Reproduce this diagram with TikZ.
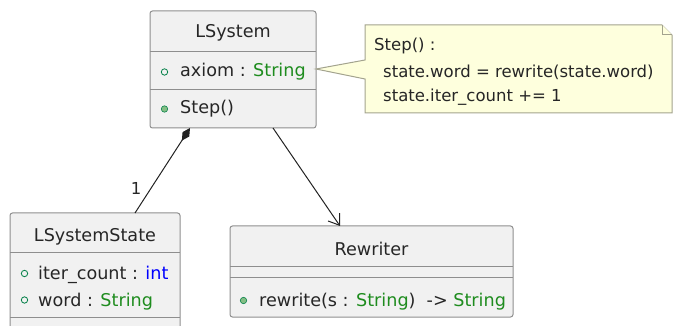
\documentclass[tikz,border=0pt]{standalone}
\usepackage{fontspec}
\setmainfont{DejaVu Sans}
\usetikzlibrary{arrows.meta,calc}
\definecolor{boxfill}{HTML}{F1F1F1}
\definecolor{boxline}{HTML}{8E8E8E}
\definecolor{noteline}{HTML}{A3A38E}
\definecolor{connline}{HTML}{222222}
\definecolor{notefill}{HTML}{FEFFDD}
\definecolor{typegreen}{HTML}{1E8C1E}
\definecolor{typeblue}{HTML}{0000FF}
\definecolor{visline}{HTML}{038048}
\definecolor{visfill}{HTML}{84BE84}
\tikzset{
  classbox/.style={draw=boxline, line width=1pt, fill=boxfill, rounded corners=2.5pt, inner sep=0pt, outer sep=0pt},
  divider/.style={draw=boxline, line width=1pt},
  ctitle/.style={anchor=base, inner sep=0pt, font=\fontsize{17.6}{21}\selectfont, text=black!85},
  member/.style={anchor=base west, inner sep=0pt, font=\fontsize{17.6}{21}\selectfont, text=black!85},
  notetext/.style={anchor=base west, inner sep=0pt, font=\fontsize{16.5}{20}\selectfont, text=black!85},
  fieldvis/.style={draw=visline, line width=0.8pt, fill=none},
  methvis/.style={draw=visline, line width=0.6pt, fill=visfill},
  conn/.style={draw=connline, line width=1pt},
}
\begin{document}
\begin{tikzpicture}[x=1pt,y=-1pt]
\useasboundingbox (0,0) rectangle (673,326);
\clip (0,0) rectangle (673,326);

% LSystem
\node[classbox, minimum width=166pt, minimum height=117pt] (lsys) at (233,69.5) {};
\draw[divider] (150,52) -- (316,52);
\draw[divider] (150,90) -- (316,90);
\node[ctitle] (lsysT) at (233,38) {LSystem};
\draw[fieldvis] (164.5,72) circle (3.2pt);
\node[member] (lsysA) at (180,76.5) {axiom : \textcolor{typegreen}{String}};
\draw[methvis] (164.5,109) circle (3.2pt);
\node[member] (lsysM) at (180,113.5) {Step()};

% LSystemState
\node[classbox, minimum width=170pt, minimum height=127pt] (lss) at (95,276.5) {};
\draw[divider] (10,253) -- (180,253);
\draw[divider] (10,317) -- (180,317);
\node[ctitle] (lssT) at (95,241.5) {LSystemState};
\draw[fieldvis] (24.5,273.5) circle (3.2pt);
\node[member] (lssA) at (38,279.5) {iter\_count : \textcolor{typeblue}{int}};
\draw[fieldvis] (24.5,300) circle (3.2pt);
\node[member] (lssB) at (38,306) {word : \textcolor{typegreen}{String}};

% Rewriter
\node[classbox, minimum width=283pt, minimum height=91pt] (rw) at (371.5,271.5) {};
\draw[divider] (230,267) -- (513,267);
\draw[divider] (230,278) -- (513,278);
\node[ctitle] (rwT) at (371.5,255) {Rewriter};
\draw[methvis] (243.5,300.5) circle (3.2pt);
\node[member] (rwM) at (259,306.5) {rewrite(s : \textcolor{typegreen}{String})\ \ -> \textcolor{typegreen}{String}};

% Note
\draw[draw=noteline, line width=1pt, fill=notefill]
  (365,25) -- (662,25) -- (672,35) -- (672,113) -- (365,113) -- (365,79) -- (316,69) -- (365,60) -- cycle;
\draw[draw=noteline, line width=1pt, fill=notefill] (662,25) -- (662,35) -- (672,35);
\node[notetext] (n1) at (374,50.5) {Step() :};
\node[notetext] (n2) at (383,78) {state.word = rewrite(state.word)};
\node[notetext] (n3) at (383,101.5) {state.iter\_count += 1};

% Connectors
\coordinate (compA) at ($(lsys.south west)+(40,0)$);
\coordinate (compB) at ($(lss.north west)+(125,0)$);
\draw[conn, {Diamond[length=15pt,width=8pt]}-] (compA) -- (compB);
\node[anchor=base, inner sep=0pt, font=\fontsize{16.5}{20}\selectfont, text=black!85] (mult) at (136,195) {1};

\coordinate (depA) at ($(lsys.south west)+(123,0)$);
\coordinate (depB) at ($(rw.north west)+(110,0)$);
\draw[conn, -{Straight Barb[length=10pt,width=14pt]}] (depA) -- (depB);
\end{tikzpicture}
\end{document}
